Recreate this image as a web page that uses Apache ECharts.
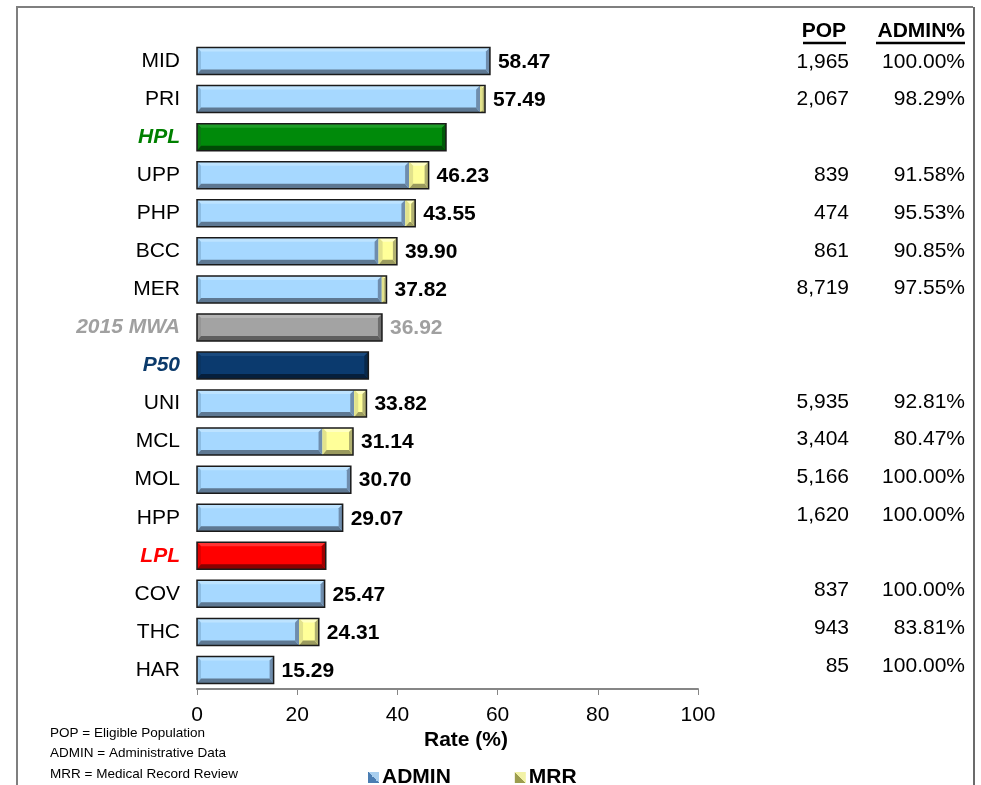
<!DOCTYPE html>
<html>
<head>
<meta charset="utf-8">
<title>Rate (%) by plan</title>
<script src="https://cdn.jsdelivr.net/npm/echarts@6/dist/echarts.min.js"></script>
<style>
  html, body { margin: 0; padding: 0; background: #fff; }
  #chart { width: 981px; height: 785px; }
</style>
</head>
<body>
<div id="chart"></div>
<script>
// Plans and benchmarks, top to bottom
const categories = ['MID', 'PRI', 'HPL', 'UPP', 'PHP', 'BCC', 'MER', '2015 MWA', 'P50', 'UNI', 'MCL', 'MOL', 'HPP', 'LPL', 'COV', 'THC', 'HAR'];
// Total rate (%) per row
const rates = [58.47, 57.49, 49.7, 46.23, 43.55, 39.90, 37.82, 36.92, 34.2, 33.82, 31.14, 30.70, 29.07, 25.7, 25.47, 24.31, 15.29];
// Share of the rate coming from administrative data (null for benchmark rows)
const adminPct = [100.00, 98.29, null, 91.58, 95.53, 90.85, 97.55, null, null, 92.81, 80.47, 100.00, 100.00, null, 100.00, 83.81, 100.00];
// Eligible population (null for benchmark rows)
const pop = [1965, 2067, null, 839, 474, 861, 8719, null, null, 5935, 3404, 5166, 1620, null, 837, 943, 85];
// Benchmark rows: key per row, '' for plans
const benchmarkKey = ['', '', 'hpl', '', '', '', '', 'mwa', 'p50', '', '', '', '', 'lpl', '', '', ''];
const xTicks = { min: 0, max: 100, interval: 20 };

const FONT = '"Liberation Sans", Arial, sans-serif';
const BAR_H = 27;

const palettes = {
  admin: { fill: '#A6D8FF', top: '#BDE3FF', left: '#8DBDE3', bottom: '#5E7892', right: '#6F8DAD' },
  mrr:   { fill: '#FFFF99', top: '#FFFFC4', left: '#E2E28C', bottom: '#9A9A5E', right: '#B0B070' },
  hpl:   { fill: '#008A0A', top: '#1E9E28', left: '#0A7A12', bottom: '#004A05', right: '#005A08' },
  mwa:   { fill: '#A3A3A3', top: '#B5B5B5', left: '#969696', bottom: '#5E5E5E', right: '#6E6E6E' },
  p50:   { fill: '#0B3A6E', top: '#1A4A7E', left: '#0A3563', bottom: '#061F3C', right: '#08284A' },
  lpl:   { fill: '#FF0000', top: '#FF3333', left: '#E00000', bottom: '#8A0000', right: '#A00000' }
};
const labelColors = { hpl: '#008000', mwa: '#A0A0A0', p50: '#0B3A6B', lpl: '#FF0000' };

// Series data built from the arrays above: [start, end, rowIndex]
const adminData = [], mrrData = [], benchData = [], outlineData = [];
categories.forEach((c, i) => {
  const key = benchmarkKey[i];
  if (key) {
    benchData.push({ value: [0, rates[i], i], key: key });
  } else {
    const admin = +(rates[i] * adminPct[i] / 100).toFixed(2);
    adminData.push([0, admin, i]);
    if (rates[i] - admin > 0.001) mrrData.push([admin, rates[i], i]);
  }
  outlineData.push({ value: [0, rates[i], i], key: key });
});

// Bevelled rectangle between two x pixels, centred on yc
function bevel(x0, x1, yc, pal) {
  const y0 = yc - BAR_H / 2, y1 = yc + BAR_H / 2;
  const w = x1 - x0;
  const b = Math.max(0, Math.min(4, w / 2));
  const bb = Math.max(0, Math.min(5, w / 2));
  const st = (c) => ({ fill: c });
  return [
    { type: 'rect', shape: { x: x0, y: y0, width: w, height: BAR_H }, style: st(pal.fill) },
    { type: 'polygon', shape: { points: [[x0, y0], [x1, y0], [x1 - b, y0 + b], [x0 + b, y0 + b]] }, style: st(pal.top) },
    { type: 'polygon', shape: { points: [[x0, y0], [x0 + b, y0 + b], [x0 + b, y1 - bb], [x0, y1]] }, style: st(pal.left) },
    { type: 'polygon', shape: { points: [[x0, y1], [x0 + b, y1 - bb], [x1 - b, y1 - bb], [x1, y1]] }, style: st(pal.bottom) },
    { type: 'polygon', shape: { points: [[x1, y0], [x1, y1], [x1 - b, y1 - bb], [x1 - b, y0 + b]] }, style: st(pal.right) }
  ];
}

function segmentRenderer(palFor) {
  return function (params, api) {
    const row = api.value(2);
    const p0 = api.coord([api.value(0), row]);
    const p1 = api.coord([api.value(1), row]);
    return { type: 'group', children: bevel(p0[0], p1[0], p0[1], palFor(params.dataIndex)) };
  };
}

function renderOutline(params, api) {
  const row = api.value(2);
  const p0 = api.coord([0, row]);
  const p1 = api.coord([api.value(1), row]);
  const key = outlineData[params.dataIndex].key;
  const children = [{
    type: 'rect',
    shape: { x: p0[0], y: p0[1] - BAR_H / 2, width: p1[0] - p0[0], height: BAR_H },
    style: { fill: 'none', stroke: '#1A1A1A', lineWidth: 1.5 }
  }];
  if (key === '' || key === 'mwa') {
    children.push({
      type: 'text',
      x: p1[0] + 8, y: p0[1] + 1,
      style: {
        text: rates[row].toFixed(2),
        font: 'bold 21px ' + FONT,
        fill: key === 'mwa' ? '#A0A0A0' : '#000',
        verticalAlign: 'middle', align: 'left'
      }
    });
  }
  return { type: 'group', children: children };
}

const fmtPop = (v) => v == null ? '' : v.toLocaleString('en-US');
const fmtPct = (v) => v == null ? '' : v.toFixed(2) + '%';

const chart = echarts.init(document.getElementById('chart'), null, { renderer: 'canvas' });

chart.setOption({
  backgroundColor: '#fff',
  animation: false,
  textStyle: { fontFamily: FONT },
  grid: [
    { left: 197, right: 283, top: 42, bottom: 96 },
    { left: 849, right: 16, top: 43, bottom: 100 }
  ],
  xAxis: [
    {
      gridIndex: 0, type: 'value', min: xTicks.min, max: xTicks.max, interval: xTicks.interval,
      splitLine: { show: false },
      axisLine: { show: true, lineStyle: { color: '#868686', width: 2 } },
      axisTick: { show: true, length: 6, lineStyle: { color: '#868686', width: 1 } },
      axisLabel: { fontSize: 21, color: '#000', margin: 16, fontFamily: FONT }
    },
    { gridIndex: 1, type: 'value', show: false, min: 0, max: 1 }
  ],
  yAxis: [
    {
      gridIndex: 0, type: 'category', inverse: true, data: categories,
      axisLine: { show: false }, axisTick: { show: false },
      axisLabel: {
        margin: 17, fontSize: 21, color: '#000', fontFamily: FONT,
        formatter: (v, i) => benchmarkKey[i] ? '{' + benchmarkKey[i] + '|' + v + '}' : v,
        rich: {
          hpl: { color: labelColors.hpl, fontWeight: 'bold', fontStyle: 'italic', fontSize: 21, fontFamily: FONT },
          mwa: { color: labelColors.mwa, fontWeight: 'bold', fontStyle: 'italic', fontSize: 21, fontFamily: FONT },
          p50: { color: labelColors.p50, fontWeight: 'bold', fontStyle: 'italic', fontSize: 21, fontFamily: FONT },
          lpl: { color: labelColors.lpl, fontWeight: 'bold', fontStyle: 'italic', fontSize: 21, fontFamily: FONT }
        }
      }
    },
    {
      gridIndex: 1, type: 'category', inverse: true, position: 'left', data: pop.map(fmtPop),
      axisLine: { show: false }, axisTick: { show: false },
      axisLabel: { margin: 0, fontSize: 21, color: '#000', fontFamily: FONT, interval: 0 }
    },
    {
      gridIndex: 1, type: 'category', inverse: true, position: 'right', data: adminPct.map(fmtPct),
      axisLine: { show: false }, axisTick: { show: false },
      axisLabel: { inside: true, margin: 0, fontSize: 21, color: '#000', fontFamily: FONT, interval: 0 }
    }
  ],
  legend: {
    left: 363, top: 762, itemWidth: 11, itemHeight: 11, itemGap: 64,
    textStyle: { fontSize: 21, fontWeight: 'bold', color: '#000', fontFamily: FONT, padding: [0, 0, 0, -2] },
    data: [
      { name: 'ADMIN', icon: 'rect', itemStyle: { color: new echarts.graphic.LinearGradient(0, 1, 1, 0, [
        { offset: 0, color: '#4B7DB2' }, { offset: 0.5, color: '#4B7DB2' },
        { offset: 0.5, color: '#A9CFEF' }, { offset: 1, color: '#A9CFEF' }]) } },
      { name: 'MRR', icon: 'rect', itemStyle: { color: new echarts.graphic.LinearGradient(0, 1, 1, 0, [
        { offset: 0, color: '#9C9C4E' }, { offset: 0.5, color: '#9C9C4E' },
        { offset: 0.5, color: '#F2F2A6' }, { offset: 1, color: '#F2F2A6' }]) } }
    ]
  },
  series: [
    {
      name: 'ADMIN', type: 'custom', xAxisIndex: 0, yAxisIndex: 0,
      encode: { x: [0, 1], y: 2 }, data: adminData,
      itemStyle: { color: '#A6D8FF' },
      renderItem: segmentRenderer(() => palettes.admin)
    },
    {
      name: 'MRR', type: 'custom', xAxisIndex: 0, yAxisIndex: 0,
      encode: { x: [0, 1], y: 2 }, data: mrrData,
      itemStyle: { color: '#FFFF99' },
      renderItem: segmentRenderer(() => palettes.mrr)
    },
    {
      name: 'Benchmarks', type: 'custom', xAxisIndex: 0, yAxisIndex: 0,
      encode: { x: [0, 1], y: 2 }, data: benchData,
      renderItem: segmentRenderer((i) => palettes[benchData[i].key])
    },
    {
      name: 'Outline', type: 'custom', xAxisIndex: 0, yAxisIndex: 0,
      encode: { x: [0, 1], y: 2 }, data: outlineData,
      renderItem: renderOutline, z: 3
    }
  ],
  graphic: [
    // frame
    { type: 'polyline', shape: { points: [[17, 790], [17, 7], [973, 7]] }, style: { stroke: '#7F7F7F', lineWidth: 2, fill: 'none' } },
    { type: 'line', shape: { x1: 974, y1: 7, x2: 974, y2: 790 }, style: { stroke: '#3A3A3A', lineWidth: 1.5 } },
    // column headers
    { type: 'text', x: 846, y: 31, style: { text: 'POP', font: 'bold 21px ' + FONT, fill: '#000', align: 'right', verticalAlign: 'middle' } },
    { type: 'line', shape: { x1: 803, y1: 43, x2: 846, y2: 43 }, style: { stroke: '#000', lineWidth: 2.5 } },
    { type: 'text', x: 965, y: 31, style: { text: 'ADMIN%', font: 'bold 21px ' + FONT, fill: '#000', align: 'right', verticalAlign: 'middle' } },
    { type: 'line', shape: { x1: 876, y1: 43, x2: 965, y2: 43 }, style: { stroke: '#000', lineWidth: 2.5 } },
    // axis title
    { type: 'text', x: 466, y: 740, style: { text: 'Rate (%)', font: 'bold 21px ' + FONT, fill: '#000', align: 'center', verticalAlign: 'middle' } },
    // footnotes
    { type: 'text', x: 50, y: 733, style: { text: 'POP = Eligible Population', font: '13.5px ' + FONT, fill: '#000', verticalAlign: 'middle' } },
    { type: 'text', x: 50, y: 753, style: { text: 'ADMIN = Administrative Data', font: '13.5px ' + FONT, fill: '#000', verticalAlign: 'middle' } },
    { type: 'text', x: 50, y: 774, style: { text: 'MRR = Medical Record Review', font: '13.5px ' + FONT, fill: '#000', verticalAlign: 'middle' } }
  ]
});
</script>
</body>
</html>
